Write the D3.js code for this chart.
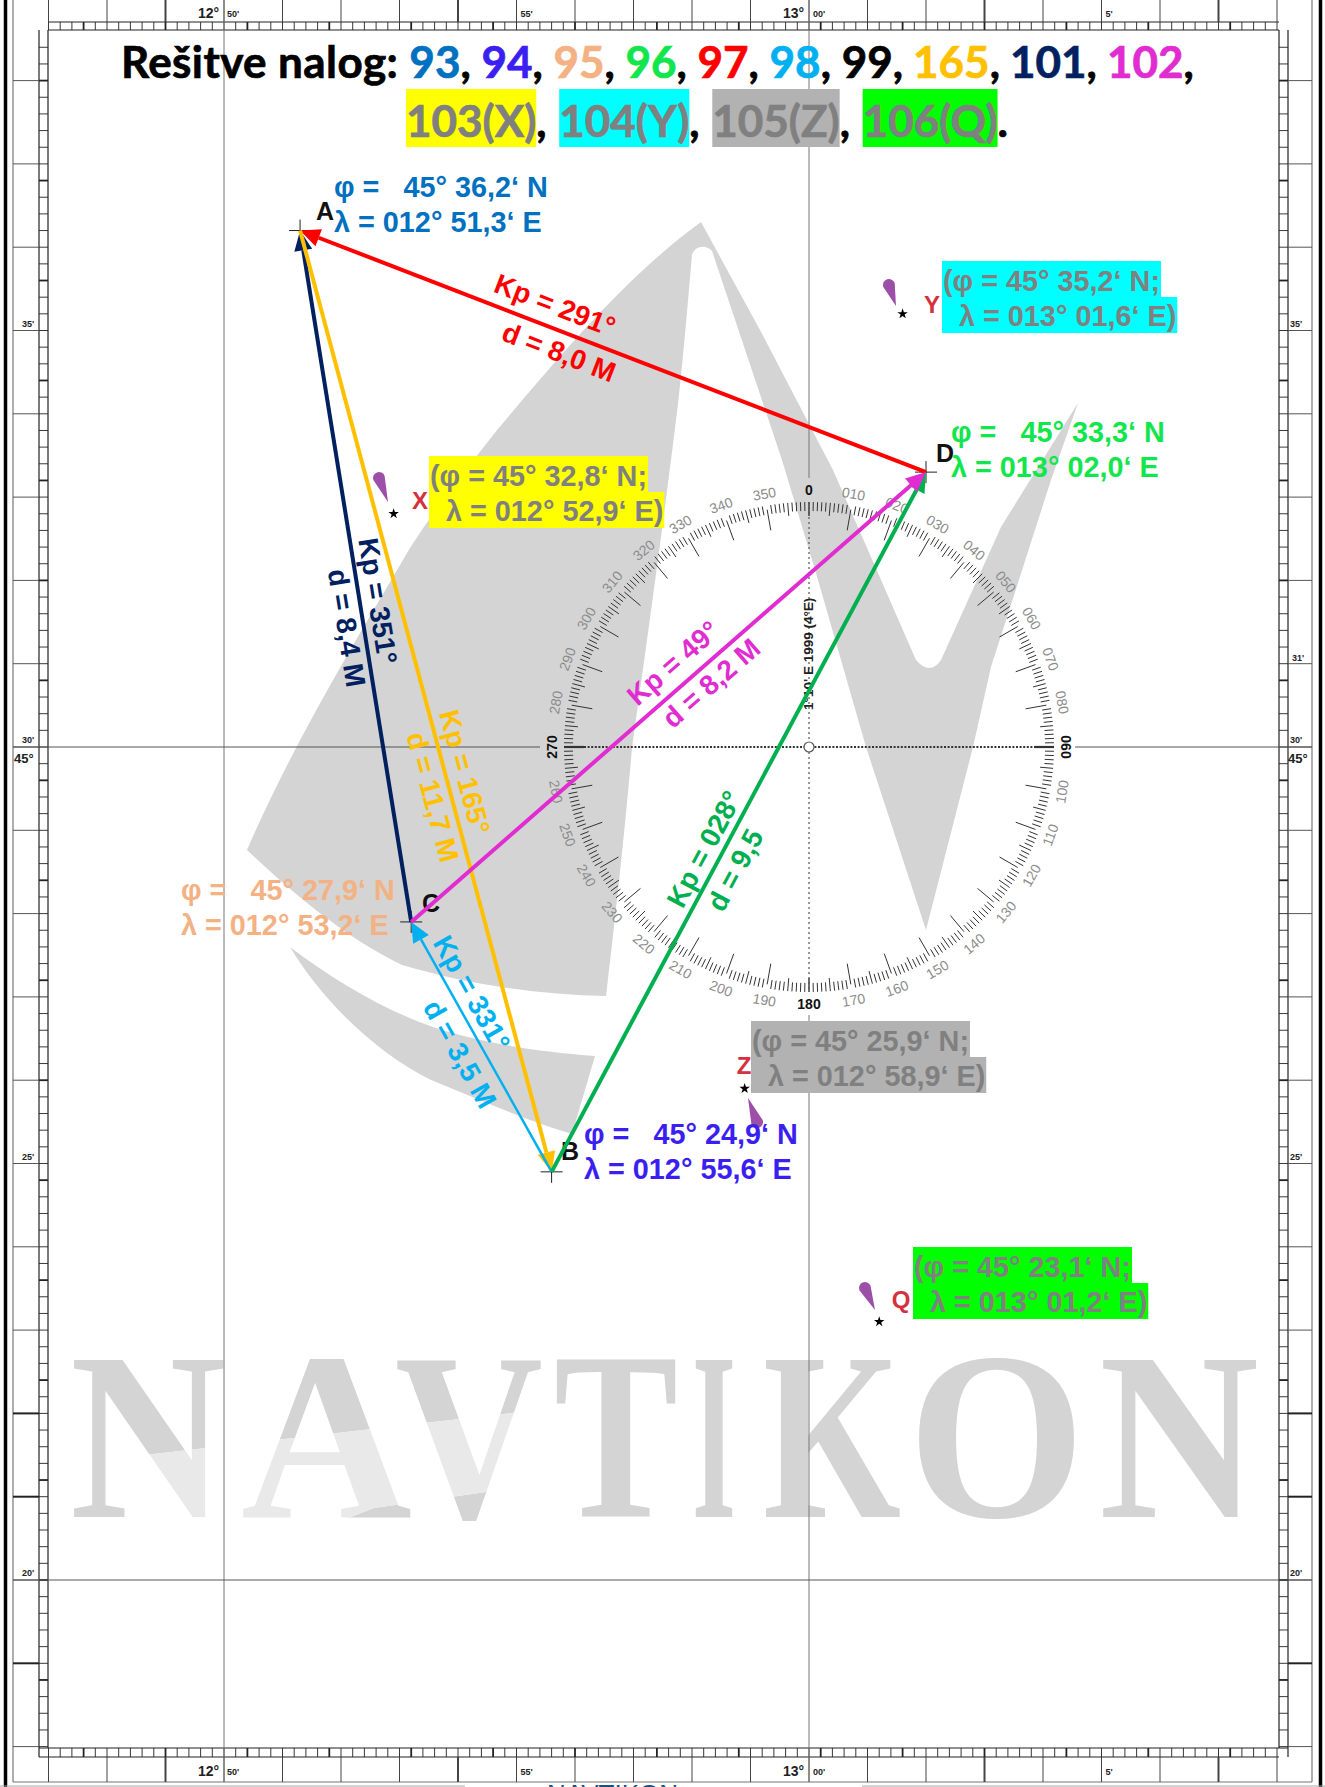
<!DOCTYPE html>
<html>
	<head>
		<meta charset="utf-8">
		<style>
			html, body { margin: 0; padding: 0; background: #fff; overflow: hidden; }
			svg { display: block; }
			text { white-space: pre; }
			.arial { font-family: "Liberation Sans", Arial, sans-serif; }
		</style>
	</head>
	<body>
		<script src="https://d3js.org/d3.v7.min.js"></script>
		<script type="text/javascript">

			// points of the route, minutes of latitude past 45° and of longitude past 12°
			var pointNames = ["A", "B", "C", "D"];
			var pointLat = [36.2, 24.9, 27.9, 33.3];
			var pointLon = [51.3, 55.6, 53.2, 62.0];

			// legs of the route, indexes into the points above
			var legFrom = [3, 2, 0, 1, 1, 2];
			var legTo = [0, 0, 1, 2, 3, 3];
			var legKp = ["291°", "351°", "165°", "331°", "028°", "49°"];
			var legDist = ["8,0 M", "8,4 M", "11,7 M", "3,5 M", "9,5", "8,2 M"];

			// bearing marks
			var markNames = ["X", "Y", "Z", "Q"];
			var markLat = [32.8, 35.2, 25.9, 23.1];
			var markLon = [52.9, 61.6, 58.9, 61.2];

			// title
			var titleTasks = ["93", "94", "95", "96", "97", "98", "99", "165", "101", "102"];
			var titleMarks = ["103(X)", "104(Y)", "105(Z)", "106(Q)"];

			// chart border labels
			var latTickLabels = [35, 30, 25, 20];
			var lonBoldMinutes = [49, 54, 63, 67];
			var latBoldMinutes = [19, 21, 22];
			var roseLabels = ["0", "010", "020", "030", "040", "050", "060", "070", "080", "060", "100", "110",
				"120", "130", "140", "150", "160", "170", "180", "190", "200", "210", "220", "230",
				"240", "250", "260", "270", "280", "290", "300", "310", "320", "330", "340", "350"];

			var legColors = ["#ff0000", "#002060", "#ffc000", "#00b0f0", "#00b050", "#e02cd0"];
			var pointColors = ["#0070c0", "#3b1ff0", "#f4b183", "#12e64c"];
			var taskColors = ["#0070c0", "#3b1ff0", "#f4b183", "#12e64c", "#ff0000", "#00b0f0", "#000", "#ffc000", "#002060", "#e02cd0"];
			var markColors = ["#ffff00", "#00ffff", "#b2b2b2", "#00ff00"];

			var width = 1325, height = 1787;
			var svg = d3.select("body").append("svg")
				.attr("width", width)
				.attr("height", height);

			// chart projection, checked against the printed graticule
			var x = d3.scaleLinear().domain([50, 60]).range([224, 809]);
			var y = d3.scaleLinear().domain([30, 20]).range([747, 1580]);

			var frame = {left: 48, right: 1279, top: 30, bottom: 1748};
			var lonMin = 47, lonMax = 68, latMin = 18, latMax = 38.6;
			var logoGrey = "#d4d4d4";

			// ---- background logo
			var logo = svg.append("g").attr("fill", logoGrey);
			logo.append("path").attr("d", "M701,222 C620,280 540,380 497,430 C450,490 420,530 403,560 C350,650 290,750 247,850 C300,900 350,940 402,965 C470,985 540,995 606,996 C615,920 625,830 632,748 C650,620 665,510 678,404 C684,350 688,300 692,255 C695,246 705,244 712,251 L782,460 L816,573 L866,747 L926,930 L973,747 L991,667 L1051,480 L1078,403 L1001,527 L941,660 Q930,676 916,660 L833,470 L760,330 Z");
			logo.append("path").attr("d", "M290,947 C340,985 400,1020 460,1035 C510,1048 555,1053 595,1056 L572,1134 C525,1120 480,1100 431,1080 C380,1055 325,1005 290,947 Z");

			// large name across the lower part, with a paler band through it
			var brandLetters = "NAVTIKON".split("");
			var brandLeft = [70, 241, 395, 554, 692, 763, 908, 1099];
			var brandWidth = [156, 171, 148, 124, 44, 138, 177, 160];
			svg.append("clipPath").attr("id", "band").append("path")
				.attr("d", "M145,1455 L520,1412 L500,1490 L374,1508 L330,1525 L145,1545 Z");
			function brand(g, color) {
				g.selectAll("text").data(brandLetters).enter().append("text")
					.attr("x", function(d, i) { return brandLeft[i]; })
					.attr("y", 1517)
					.attr("textLength", function(d, i) { return brandWidth[i]; })
					.attr("lengthAdjust", "spacingAndGlyphs")
					.style("font-family", "'Liberation Serif', serif")
					.style("font-size", "240px")
					.style("font-weight", "bold")
					.attr("fill", color)
					.text(function(d) { return d; });
			}
			brand(svg.append("g"), logoGrey);
			var paleBand = svg.append("g").attr("clip-path", "url(#band)");
			paleBand.append("rect").attr("x", 100).attr("y", 1400).attr("width", 430).attr("height", 160).attr("fill", "#fff");
			brand(paleBand, "#e9e9e9");

			// ---- chart frame and graduated border
			var lines = svg.append("g").attr("fill", "none").attr("stroke", "#444").attr("stroke-width", 1);
			function seg(x1, y1, x2, y2, w, c) {
				lines.append("line").attr("x1", x1).attr("y1", y1).attr("x2", x2).attr("y2", y2)
					.attr("stroke-width", w || 1).attr("stroke", c || "#444");
			}
			seg(5.5, 0, 5.5, height, 3.5, "#000");
			seg(1320.5, 0, 1320.5, height, 3.5, "#000");
			seg(13, 0, 13, 1782, 1.2, "#777");
			seg(1312, 0, 1312, 1782, 1.2, "#777");
			seg(13, 1782, 1312, 1782, 1.2, "#777");
			seg(0, 1786, 465, 1786, 1, "#aaa");
			seg(862, 1786, width, 1786, 1, "#aaa");

			seg(frame.left, 22, frame.right, 22, 1.2, "#222");
			seg(frame.left, frame.top, frame.right, frame.top, 1.2, "#222");
			seg(39, frame.top, 39, frame.bottom + 9, 1.2, "#222");
			seg(frame.left, frame.top, frame.left, frame.bottom, 1.2, "#222");
			seg(frame.right, frame.top, frame.right, frame.bottom, 1.2, "#222");
			seg(frame.right + 9, frame.top, frame.right + 9, frame.bottom + 9, 1.2, "#222");
			seg(39, frame.bottom, frame.right + 9, frame.bottom, 1.2, "#222");
			seg(39, frame.bottom + 9, frame.right, frame.bottom + 9, 1.2, "#222");

			// longitude graduation: whole minutes outside, fifths in the strip
			d3.range(lonMin, lonMax + 0.01).forEach(function(m) {
				var bold = lonBoldMinutes.indexOf(m) >= 0;
				seg(x(m), 0, x(m), 22, bold ? 2 : 1);
				seg(x(m), frame.bottom + 9, x(m), 1782, bold ? 2 : 1);
			});
			d3.range(0, (lonMax - lonMin) * 5 + 1).forEach(function(i) {
				var m = lonMin + i / 5;
				var w = i % 7 === 3 ? 1.8 : 0.9;
				seg(x(m), 22, x(m), 30, w, "#222");
				seg(x(m), frame.bottom, x(m), frame.bottom + 9, w, "#222");
			});

			// latitude graduation
			d3.range(Math.ceil(latMin), latMax).forEach(function(m) {
				var bold = latBoldMinutes.indexOf(m) >= 0;
				seg(13, y(m), 39, y(m), bold ? 2 : 1, bold ? "#222" : "#555");
				seg(frame.right + 9, y(m), 1312, y(m), bold ? 2 : 1, bold ? "#222" : "#555");
			});
			d3.range(0, (latMax - latMin) * 5).forEach(function(i) {
				var m = latMin + i / 5;
				var w = i % 6 === 4 ? 1.8 : 0.9;
				seg(39, y(m), frame.left, y(m), w, "#222");
				seg(frame.right, y(m), frame.right + 9, y(m), w, "#222");
			});

			// meridians and parallels across the sheet
			seg(x(50), 0, x(50), 1782, 1, "#777");
			seg(x(60), 0, x(60), 478, 1, "#777");
			seg(x(60), 1015, x(60), 1782, 1, "#777");
			seg(13, y(30), 540, y(30), 1, "#555");
			seg(1075, y(30), 1312, y(30), 1, "#555");
			seg(13, y(20), 1312, y(20), 1, "#555");

			// border labels
			var labels = svg.append("g").style("font-family", "'Liberation Sans', Arial, sans-serif")
				.attr("fill", "#222");
			function small(tx, ty, s, size) {
				labels.append("text").attr("x", tx).attr("y", ty).text(s)
					.style("font-size", size + "px")
					.style("font-weight", "bold");
			}
			[18, 1776].forEach(function(base) {
				small(198, base, "12°", 14);
				small(227, base - 1, "50'", 9);
				small(x(55) + 4, base - 1, "55'", 9);
				small(783, base, "13°", 14);
				small(x(60) + 4, base - 1, "00'", 9);
				small(x(65) + 4, base - 1, "5'", 9);
			});
			latTickLabels.forEach(function(m) {
				small(22, y(m) - 4, m + "'", 9);
				small(1290, y(m) - 4, m + "'", 9);
			});
			small(1292, y(31) - 3, "31'", 9);
			small(14, y(30) + 16, "45°", 13);
			small(1288, y(30) + 16, "45°", 13);

			// ---- compass rose
			var rose = svg.append("g").attr("transform", "translate(" + x(60) + "," + y(30) + ")");
			var R = 245;
			d3.range(0, 360).forEach(function(deg) {
				var a = deg * Math.PI / 180;
				var sa = Math.sin(a), ca = -Math.cos(a);
				var major = deg % 10 === 0, mid = deg % 5 === 0;
				var r0 = major ? R - 25 : (mid ? R - 13 : R - 9);
				var r1 = major ? R - 4 : R;
				var w = 1;
				if (deg % 90 === 0 && deg % 180 !== 0) { r0 = R - 20; r1 = R; w = 2.2; }
				if (deg === 0 || deg === 180) { r0 = R - 14; r1 = R; w = 1.4; }
				rose.append("line")
					.attr("x1", r0 * sa).attr("y1", r0 * ca)
					.attr("x2", r1 * sa).attr("y2", r1 * ca)
					.attr("stroke", "#333").attr("stroke-width", w);
			});
			rose.selectAll("text.deg").data(roseLabels).enter().append("text")
				.attr("class", "deg arial")
				.attr("text-anchor", "middle")
				.attr("dy", "0.35em")
				.attr("transform", function(d, i) {
					var deg = i * 10, a = deg * Math.PI / 180;
					var rot = deg;
					if (deg > 90 && deg < 270) rot = deg - 180;
					if (deg > 270) rot = deg - 360;
					return "translate(" + (257 * Math.sin(a)) + "," + (-257 * Math.cos(a)) + ") rotate(" + rot + ")";
				})
				.attr("fill", function(d, i) { return i % 9 === 0 ? "#111" : "#8c8c8c"; })
				.style("font-size", "14px")
				.style("font-weight", function(d, i) { return i % 9 === 0 ? "bold" : "normal"; })
				.text(function(d) { return d; });
			rose.append("line").attr("x1", -R + 20).attr("x2", R - 20)
				.attr("stroke", "#333").attr("stroke-width", 2).attr("stroke-dasharray", "2 1.6");
			rose.append("line").attr("y1", -R).attr("y2", R)
				.attr("stroke", "#555").attr("stroke-width", 1.2).attr("stroke-dasharray", "2 3");
			rose.append("circle").attr("r", 5).attr("fill", "#fff").attr("stroke", "#555").attr("stroke-width", 1.2);
			rose.append("text").attr("class", "arial")
				.attr("transform", "translate(4,-37) rotate(-90)")
				.attr("fill", "#222")
				.style("font-size", "13.5px")
				.style("font-weight", "bold")
				.text("1°10' E 1999 (4°E)");

			// ---- text helpers
			function fmtLat(m) {
				return "45° " + m.toFixed(1).replace(".", ",") + "‘ N";
			}
			function fmtLon(m) {
				var deg = m >= 60 ? "013" : "012";
				var rest = m >= 60 ? m - 60 : m;
				return deg + "° " + d3.format("04.1f")(rest).replace(".", ",") + "‘ E";
			}
			var coordFont = 28.8;

			// ---- bearing marks with their highlighted positions
			var markBoxX = [429, 942, 751, 913];
			var markBase = [486, 291, 1051, 1277];
			var markLetter = [[420, 509], [932, 313], [744, 1074], [901, 1308]];
			var dropTip = [[388, 502], [896, 306], [748, 1098], [875, 1310]];
			var dropEnd = [[379, 478], [889, 285], [757, 1122], [865, 1288]];

			var marks = svg.append("g");
			markNames.forEach(function(name, i) {
				var sx = x(markLon[i]), sy = y(markLat[i]);
				marks.append("path")
					.attr("transform", "translate(" + sx + "," + sy + ")")
					.attr("d", d3.symbol().type(d3.symbolStar).size(34)())
					.attr("fill", "#000");

				var t = dropTip[i], e = dropEnd[i];
				var dx = e[0] - t[0], dy = e[1] - t[1], len = Math.sqrt(dx * dx + dy * dy);
				var nx = -dy / len * 6, ny = dx / len * 6;
				marks.append("path")
					.attr("d", "M" + t[0] + "," + t[1] + "L" + (e[0] + nx) + "," + (e[1] + ny) +
						"A6,6 0 1 0 " + (e[0] - nx) + "," + (e[1] - ny) + "Z")
					.attr("fill", "#9b4fa6");

				marks.append("text").attr("class", "arial")
					.attr("text-anchor", "middle")
					.attr("x", markLetter[i][0]).attr("y", markLetter[i][1])
					.attr("fill", "#d5303e")
					.style("font-size", "24px").style("font-weight", "bold")
					.text(name);

				var rows = ["(φ = " + fmtLat(markLat[i]) + ";", "  λ = " + fmtLon(markLon[i]) + ")"];
				rows.forEach(function(s, k) {
					var base = markBase[i] + k * 35;
					var rect = marks.append("rect")
						.attr("x", markBoxX[i]).attr("y", base - 30 + k)
						.attr("height", 36).attr("fill", markColors[i]);
					var label = marks.append("text").attr("class", "arial")
						.attr("x", markBoxX[i] + 1).attr("y", base)
						.attr("fill", "#808080")
						.style("font-size", coordFont + "px").style("font-weight", "bold")
						.text(s);
					rect.attr("width", label.node().getComputedTextLength() + 2);
				});
			});

			// ---- route points
			var pointTextX = [334, 584, 181, 951];
			var pointTextBase = [197, 1144, 900, 442];
			var letterPos = [[325, 220], [570, 1160], [431, 912], [945, 462]];
			var points = svg.append("g");
			pointNames.forEach(function(name, i) {
				var px = x(pointLon[i]), py = y(pointLat[i]);
				points.append("path")
					.attr("d", "M" + (px - 11) + "," + py + "H" + (px + 11) + "M" + px + "," + (py - 11) + "V" + (py + 11))
					.attr("stroke", "#222").attr("stroke-width", 1);
				points.append("text").attr("class", "arial")
					.attr("text-anchor", "middle")
					.attr("x", letterPos[i][0]).attr("y", letterPos[i][1])
					.attr("fill", "#111")
					.style("font-size", "25px").style("font-weight", "bold")
					.text(name);
				["φ =   " + fmtLat(pointLat[i]), "λ = " + fmtLon(pointLon[i])].forEach(function(s, k) {
					points.append("text").attr("class", "arial")
						.attr("x", pointTextX[i]).attr("y", pointTextBase[i] + k * 35)
						.attr("fill", pointColors[i])
						.style("font-size", coordFont + "px").style("font-weight", "bold")
						.text(s);
				});
			});

			// ---- route legs with arrowheads and labels along them
			var kpAt = [[555, 305], [378, 601], [465, 772], [472, 993], [704, 849], [673, 663]];
			var distAt = [[559, 352], [347, 628], [433, 797], [460, 1054], [735, 870], [711, 683]];
			var legs = svg.append("g");
			legFrom.forEach(function(from, i) {
				var to = legTo[i];
				var x0 = x(pointLon[from]), y0 = y(pointLat[from]);
				var x1 = x(pointLon[to]), y1 = y(pointLat[to]);
				var dx = x1 - x0, dy = y1 - y0, len = Math.sqrt(dx * dx + dy * dy);
				var ux = dx / len, uy = dy / len;
				var head = 20, half = 9;
				var bx = x1 - ux * head, by = y1 - uy * head;

				legs.append("line")
					.attr("x1", x0).attr("y1", y0).attr("x2", bx).attr("y2", by)
					.attr("stroke", legColors[i])
					.attr("stroke-width", i === 3 ? 2.5 : 4);
				legs.append("path")
					.attr("d", "M" + x1 + "," + y1 +
						"L" + (bx - uy * half) + "," + (by + ux * half) +
						"L" + (bx + uy * half) + "," + (by - ux * half) + "Z")
					.attr("fill", legColors[i]);

				var angle = Math.atan2(dy, dx) * 180 / Math.PI;
				if (dx < 0) angle += 180;
				[["Kp = " + legKp[i], kpAt[i]], ["d = " + legDist[i], distAt[i]]].forEach(function(row) {
					legs.append("text").attr("class", "arial")
						.attr("text-anchor", "middle")
						.attr("dy", "0.35em")
						.attr("transform", "translate(" + row[1][0] + "," + row[1][1] + ") rotate(" + angle + ")")
						.attr("fill", legColors[i])
						.style("font-size", "28px").style("font-weight", "bold")
						.text(row[0]);
				});
			});

			// ---- title, laid out piece by piece so highlights fit the text
			var titleFont = "'Lato', 'Carlito', sans-serif";
			function titleRow(pieces, left, base) {
				var cx = left;
				pieces.forEach(function(p) {
					var bg = p.bg ? svg.append("rect").attr("x", cx).attr("y", 89).attr("height", 58).attr("fill", p.bg) : null;
					var t = svg.append("text")
						.attr("x", cx).attr("y", base)
						.attr("fill", p.color)
						.attr("stroke", p.color)
						.attr("stroke-width", 0.7)
						.style("font-family", titleFont)
						.style("font-size", "44px").style("font-weight", "bold")
						.style("letter-spacing", (p.spacing || 0) + "px")
						.text(p.text);
					var w = t.node().getComputedTextLength();
					if (bg) bg.attr("width", w);
					cx += w + (p.extra || 0);
				});
			}
			var row1 = [{text: "Rešitve nalog: ", color: "#000", spacing: 0.4}];
			titleTasks.forEach(function(s, i) {
				row1.push({text: s, color: taskColors[i]});
				row1.push({text: i === titleTasks.length - 1 ? "," : ", ", color: "#000", extra: i > 5 ? -0.6 : 0});
			});
			var row2 = [];
			titleMarks.forEach(function(s, i) {
				row2.push({text: s, color: "#808080", bg: markColors[i]});
				row2.push({text: i === titleMarks.length - 1 ? "." : ", ", color: "#000", extra: 2});
			});
			titleRow(row1, 121, 78);
			titleRow(row2, 406, 137);

			// cut off footer name
			svg.append("text").attr("class", "arial")
				.attr("x", 547).attr("y", 1803)
				.attr("fill", "#1f4e79")
				.style("font-size", "26px")
				.text("NAVTIKON .");
		</script>
	</body>
</html>
